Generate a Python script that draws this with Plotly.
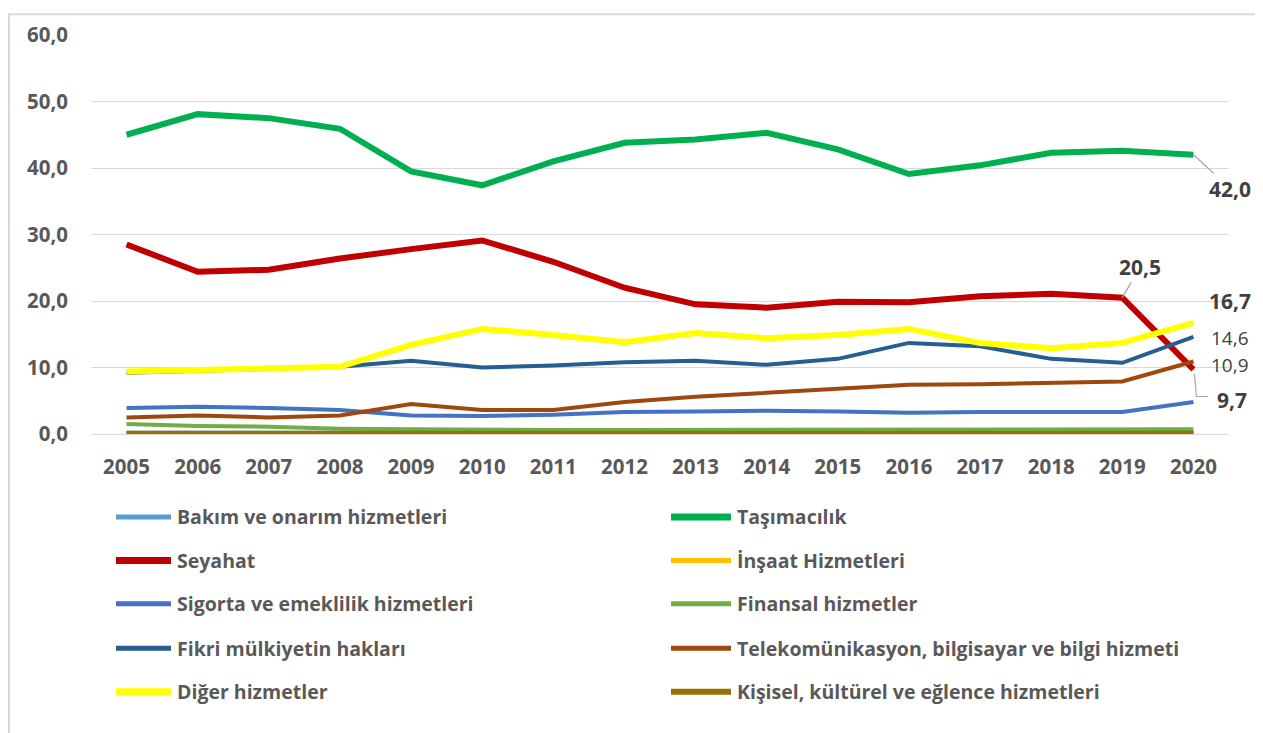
import plotly.graph_objects as go

# Yıllar
yillar = list(range(2005, 2021))

# Hizmet kalemleri (pay, %)
bakim = [0.2, 0.2, 0.2, 0.2, 0.2, 0.2, 0.2, 0.2, 0.2, 0.2, 0.2, 0.2, 0.2, 0.2, 0.2, 0.2]
tasimacilik = [45.0, 48.1, 47.5, 45.9, 39.5, 37.4, 41.0, 43.8, 44.3, 45.3, 42.8, 39.1, 40.4, 42.3, 42.6, 42.0]
seyahat = [28.5, 24.4, 24.7, 26.4, 27.8, 29.1, 25.9, 22.0, 19.5, 19.0, 19.9, 19.8, 20.7, 21.1, 20.5, 9.7]
insaat = [0.1, 0.1, 0.1, 0.1, 0.1, 0.1, 0.1, 0.1, 0.1, 0.1, 0.1, 0.1, 0.1, 0.1, 0.1, 0.1]
sigorta = [3.9, 4.1, 3.9, 3.6, 2.8, 2.7, 2.9, 3.3, 3.4, 3.5, 3.4, 3.2, 3.3, 3.3, 3.3, 4.8]
finansal = [1.5, 1.2, 1.1, 0.8, 0.7, 0.6, 0.6, 0.6, 0.6, 0.6, 0.6, 0.6, 0.6, 0.6, 0.6, 0.7]
fikri = [9.2, 9.5, 9.8, 10.1, 11.0, 10.0, 10.3, 10.8, 11.0, 10.4, 11.3, 13.7, 13.2, 11.3, 10.7, 14.6]
telekom = [2.5, 2.8, 2.5, 2.8, 4.5, 3.6, 3.6, 4.8, 5.6, 6.2, 6.8, 7.4, 7.5, 7.7, 7.9, 10.9]
diger = [9.4, 9.7, 9.8, 10.1, 13.4, 15.8, 14.9, 13.8, 15.2, 14.4, 14.9, 15.8, 13.7, 12.9, 13.7, 16.7]
kisisel = [0.1, 0.1, 0.1, 0.1, 0.1, 0.1, 0.1, 0.1, 0.1, 0.1, 0.1, 0.1, 0.1, 0.1, 0.1, 0.1]

seriler = [
    ("Bakım ve onarım hizmetleri", bakim, "#5B9BD5", 4),
    ("Taşımacılık", tasimacilik, "#00B050", 6),
    ("Seyahat", seyahat, "#C00000", 6),
    ("İnşaat Hizmetleri", insaat, "#FFC000", 4),
    ("Sigorta ve emeklilik hizmetleri", sigorta, "#4472C4", 4),
    ("Finansal hizmetler", finansal, "#70AD47", 4),
    ("Fikri mülkiyetin hakları", fikri, "#255E91", 4),
    ("Telekomünikasyon, bilgisayar ve bilgi hizmeti", telekom, "#9E480E", 4),
    ("Diğer hizmetler", diger, "#FFFF00", 6),
    ("Kişisel, kültürel ve eğlence hizmetleri", kisisel, "#997300", 5),
]

FONT = "Open Sans"
GRI = "#595959"

fig = go.Figure()
for ad, deger, renk, kalinlik in seriler:
    fig.add_trace(go.Scatter(x=yillar, y=deger, mode="lines", name=ad,
                             line=dict(color=renk, width=kalinlik), showlegend=False))

# sayfa kenar boşluğu (body margin) 8px
OFF = 8
L, W, T, H = 91 - OFF, 1138, 30 - OFF, 404
FW, FH = 1263 - OFF, 733 - OFF
def px_x(p): return (p - OFF - L) / W
def px_y(p): return (T + H - (p - OFF)) / H

# Elle çizilmiş gösterge (iki sütun)
satir_y = [518, 562, 606, 651, 695]
sutun = [(116, 171, 175), (671, 731, 735)]
for i, (ad, deger, renk, kalinlik) in enumerate(seriler):
    x0, x1, xt = sutun[i % 2]
    y = satir_y[i // 2]
    fig.add_shape(type="line", xref="paper", yref="paper",
                  x0=px_x(x0), x1=px_x(x1), y0=px_y(y), y1=px_y(y),
                  line=dict(color=renk, width=kalinlik + 1))
    fig.add_annotation(xref="paper", yref="paper", x=px_x(xt), y=px_y(y),
                       text="<b>" + ad + "</b>", showarrow=False, xanchor="left",
                       yanchor="middle", font=dict(family=FONT, size=19.5, color=GRI))

# Çerçeve
fig.add_shape(type="rect", xref="paper", yref="paper",
              x0=px_x(9), x1=px_x(1258), y0=px_y(760), y1=px_y(9),
              line=dict(color="#d9d9d9", width=2), layer="below")

# Veri etiketleri
etiket_font = dict(family=FONT, size=21, color="#404040")
ince_font = dict(family=FONT, size=19, color="#404040")
ok = dict(showarrow=True, arrowhead=0, arrowwidth=1.2, arrowcolor="#a6a6a6")
fig.add_annotation(x=2020, y=tasimacilik[-1], text="<b>42,0</b>", ax=37, ay=34,
                   font=etiket_font, **ok)
fig.add_annotation(x=2019, y=seyahat[-2], text="<b>20,5</b>", ax=18, ay=-31,
                   font=etiket_font, **ok)
fig.add_annotation(x=2020, y=diger[-1], text="<b>16,7</b>", showarrow=False,
                   xshift=37, yshift=22, font=etiket_font)
fig.add_annotation(x=2020, y=fikri[-1], text="14,6", showarrow=False, borderpad=0,
                   xshift=37, yshift=-1, font=ince_font)
fig.add_annotation(x=2020, y=telekom[-1], text="10,9", showarrow=False, borderpad=0,
                   xshift=37, yshift=-3, font=ince_font)
fig.add_annotation(x=2020, y=seyahat[-1], text="<b>9,7</b>", showarrow=False,
                   xshift=39, yshift=-30, font=etiket_font)
fig.add_shape(type="path", xref="x", yref="y", xsizemode="pixel", ysizemode="pixel",
              xanchor=2020, yanchor=seyahat[-1],
              path="M 1,-4 L 3,-27 L 15,-27", line=dict(color="#a6a6a6", width=1.2))

fig.update_layout(
    width=FW, height=FH,
    margin=dict(l=L, r=FW - L - W, t=T, b=FH - T - H),
    plot_bgcolor="white", paper_bgcolor="white",
    separators=",.",
    font=dict(family=FONT, color=GRI),
)
fig.update_xaxes(range=[2004.5, 2020.5], tickvals=yillar, showgrid=False,
                 zeroline=False, showline=False, ticklabelstandoff=18,
                 tickfont=dict(family=FONT, size=20.5, color=GRI, weight="bold"))
fig.update_yaxes(range=[0, 60], dtick=10, tickformat=".1f", showgrid=True,
                 gridcolor="#d9d9d9", gridwidth=1, zeroline=True, zerolinecolor="#d9d9d9",
                 zerolinewidth=1, ticklabelstandoff=22,
                 tickfont=dict(family=FONT, size=20.5, color=GRI, weight="bold"))

fig.write_html("out.html")
